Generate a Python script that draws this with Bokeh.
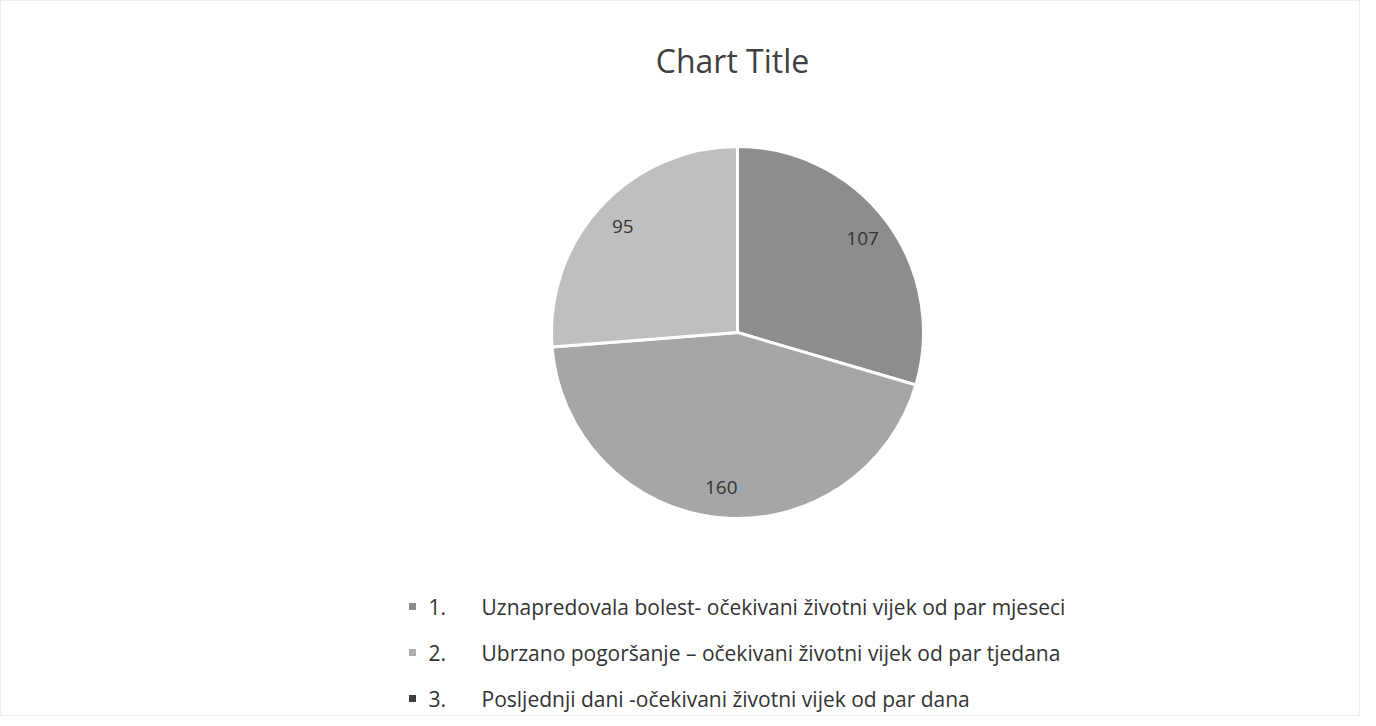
import numpy as np
from bokeh.plotting import figure
from bokeh.models import Range1d, ColumnDataSource
from bokeh.core.properties import value
from bokeh.embed import file_html
from bokeh.resources import INLINE

# ---- data ----
values = [107, 160, 95]
slice_colors = ["#8d8d8d", "#a6a6a6", "#bfbfbf"]
legend_nums = ["1.", "2.", "3."]
legend_texts = [
    "Uznapredovala bolest- očekivani životni vijek od par mjeseci",
    "Ubrzano pogoršanje – očekivani životni vijek od par tjedana",
    "Posljednji dani -očekivani životni vijek od par dana",
]
legend_colors = ["#8a8a8a", "#acacac", "#3e3e3e"]
title = "Chart Title"

W, H = 1360, 716
FONT = "Open Sans"

p = figure(width=W, height=H, output_backend="svg", toolbar_location=None,
           x_range=Range1d(0, W), y_range=Range1d(0, H), min_border=0)
p.axis.visible = False
p.grid.visible = False
p.outline_line_color = "#eeeeee"
p.background_fill_color = "white"

def Y(page_y):
    return H - page_y

def X(page_x):
    return page_x

# pie
cx, cy, r = X(737), Y(332), 186
vals = np.array(values, dtype=float)
fr = vals / vals.sum()
ang = 2 * np.pi * fr
ends = np.pi / 2 - np.concatenate([[0], np.cumsum(ang)[:-1]])
starts = ends - ang
mids = (starts + ends) / 2
src = ColumnDataSource(dict(start=starts, end=ends, color=slice_colors))
p.wedge(x=cx, y=cy, radius=r, start_angle="start", end_angle="end",
        fill_color="color", line_color="white", line_width=3, source=src)

# data labels
lr = r * 0.84
lab = ColumnDataSource(dict(x=cx + lr * np.cos(mids), y=cy + lr * np.sin(mids),
                            t=[str(v) for v in values]))
p.text(x="x", y="y", text="t", source=lab, text_align="center",
       text_baseline="middle", text_font=value(FONT), text_font_size="19px",
       text_color="#333333")

# title
p.text(x=[X(732)], y=[Y(60)], text=[title], text_align="center",
       text_baseline="middle", text_font=value(FONT), text_font_size="32px",
       text_color="#404040")

# legend
ly = [Y(606 + 46 * i) for i in range(len(legend_texts))]
leg = ColumnDataSource(dict(y=ly, num=legend_nums, txt=legend_texts, c=legend_colors))
p.rect(x=X(412), y="y", width=7, height=7, fill_color="c", line_color=None, source=leg)
p.text(x=X(428), y="y", text="num", source=leg, text_baseline="middle",
       text_font=value(FONT), text_font_size="21px", text_color="#333333")
p.text(x=X(481), y="y", text="txt", source=leg, text_baseline="middle",
       text_font=value(FONT), text_font_size="21px", text_color="#333333")

open("out.html", "w").write(file_html(p, INLINE))
